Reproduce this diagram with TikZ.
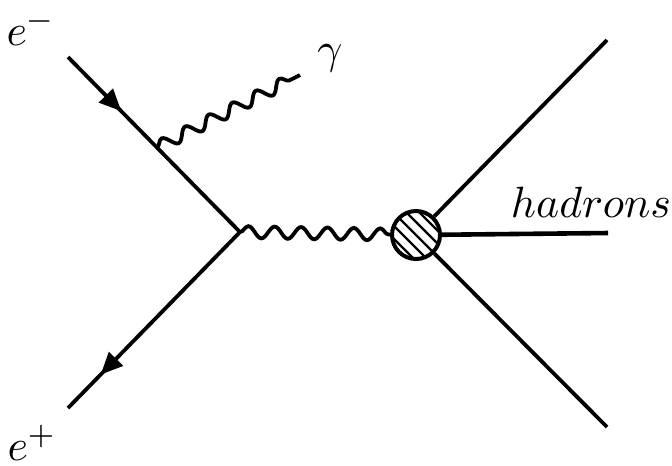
\documentclass[tikz,border=0pt]{standalone}
\usetikzlibrary{decorations.pathmorphing,decorations.markings,arrows.meta,calc}
\begin{document}
\begin{tikzpicture}[x=0.25pt,y=-0.25pt,line width=0.95pt,
  fermion/.style={draw,line width=0.95pt},
  photon/.style={draw,line width=0.95pt,decorate,decoration={snake,amplitude=1.5pt,segment length=6.6pt}},
  arrowat/.style={postaction={decorate},decoration={markings,mark=at position #1 with {\arrow{Triangle[length=5.5pt,width=4.8pt]}}}},
  lbl/.style={font=\fontsize{11pt}{13pt}\selectfont,inner sep=0pt}]
\useasboundingbox (0,0) rectangle (672,465);
\coordinate (em) at (68,57);
\coordinate (v2) at (240,232);
\coordinate (ep) at (68,408);
\coordinate (v1) at ($(em)!0.517!(v2)$);
\coordinate (g) at (300,75);
\coordinate (t1) at (607,40);
\coordinate (t2) at (608,233);
\coordinate (t3) at (607,427);
\node[circle,draw,line width=1pt,minimum size=12pt,inner sep=0pt] (blob) at (416,235) {};
\begin{scope}
  \clip (416,235) circle (24);
  \foreach \d in {-39,-26,...,39}
    \draw[line width=0.6pt] (416+\d-40,235-40) -- (416+\d+40,235+40);
\end{scope}
\draw[fermion,arrowat=0.31] (em) -- (v2);
\draw[fermion,arrowat=0.81] (v2) -- (ep);
\draw[photon] (v1) -- (g);
\draw[photon] (v2) -- (blob);
\draw[fermion] (blob) -- (t1);
\draw[fermion,line width=1.15pt] (blob) -- (t2);
\draw[fermion] (blob) -- (t3);
\node[lbl] (lem) at (31,28) {$e^-$};
\node[lbl] (lg) at (330,58) {$\gamma$};
\node[lbl,anchor=base west] (lh) at (509,217) {$hadrons$};
\node[lbl] (lep) at (32,443) {$e^+$};
\end{tikzpicture}
\end{document}
